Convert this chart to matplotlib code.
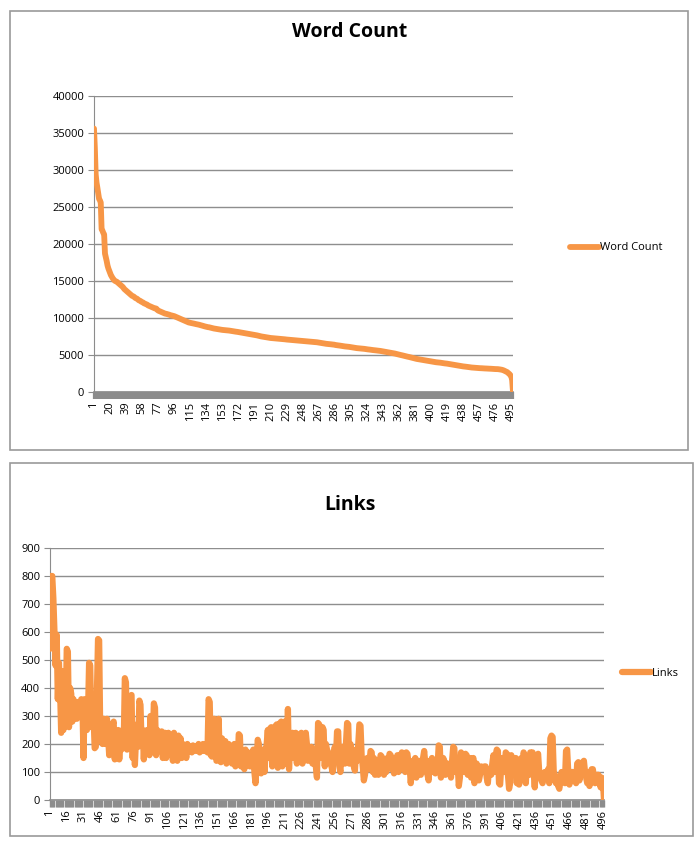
import numpy as np
import matplotlib
matplotlib.use("Agg")
import matplotlib.pyplot as plt
from matplotlib.patches import Rectangle

# word count per article, sorted descending (rows of 19)
word_count = [
  35600, 33000, 29400, 28300, 27600, 26800, 26100, 25900, 25600, 22000, 21800, 21500, 21300, 18700, 18200, 17700, 17100, 16700, 16400,
  16100, 15800, 15600, 15400, 15250, 15100, 15000, 14950, 14900, 14800, 14700, 14600, 14500, 14400, 14300, 14200, 14050, 13900, 13800,
  13700, 13600, 13500, 13400, 13300, 13200, 13100, 13000, 12950, 12900, 12800, 12700, 12650, 12600, 12500, 12400, 12350, 12300, 12200,
  12150, 12100, 12000, 11950, 11900, 11850, 11800, 11700, 11650, 11600, 11550, 11500, 11450, 11400, 11350, 11300, 11300, 11250, 11100,
  11000, 10950, 10900, 10850, 10800, 10750, 10700, 10650, 10600, 10580, 10550, 10520, 10480, 10450, 10400, 10370, 10330, 10300, 10270,
  10250, 10200, 10150, 10100, 10050, 10000, 9950, 9900, 9850, 9800, 9750, 9700, 9650, 9600, 9550, 9500, 9450, 9400, 9370,
  9350, 9320, 9300, 9280, 9250, 9220, 9200, 9170, 9150, 9120, 9100, 9070, 9040, 9000, 8970, 8940, 8900, 8870, 8840,
  8810, 8780, 8760, 8750, 8720, 8690, 8660, 8630, 8600, 8580, 8560, 8530, 8510, 8490, 8470, 8450, 8430, 8410, 8400,
  8390, 8380, 8370, 8350, 8340, 8330, 8320, 8310, 8300, 8280, 8260, 8240, 8220, 8200, 8180, 8160, 8150, 8140, 8120,
  8100, 8080, 8060, 8040, 8020, 8000, 7980, 7960, 7940, 7920, 7900, 7880, 7860, 7850, 7830, 7800, 7780, 7760, 7740,
  7720, 7700, 7680, 7650, 7620, 7590, 7550, 7530, 7510, 7490, 7470, 7450, 7430, 7410, 7390, 7370, 7350, 7330, 7310,
  7300, 7290, 7280, 7270, 7260, 7250, 7240, 7230, 7220, 7210, 7200, 7190, 7180, 7170, 7160, 7150, 7140, 7120, 7100,
  7090, 7080, 7070, 7060, 7050, 7040, 7030, 7020, 7010, 7000, 6990, 6980, 6970, 6960, 6950, 6940, 6930, 6920, 6900,
  6890, 6880, 6870, 6860, 6850, 6840, 6830, 6820, 6810, 6800, 6790, 6780, 6770, 6760, 6750, 6740, 6730, 6720, 6700,
  6690, 6670, 6650, 6630, 6610, 6590, 6570, 6550, 6530, 6510, 6500, 6490, 6480, 6470, 6460, 6440, 6420, 6410, 6400,
  6370, 6350, 6330, 6320, 6300, 6290, 6270, 6250, 6230, 6210, 6200, 6180, 6160, 6150, 6130, 6120, 6110, 6100, 6080,
  6060, 6040, 6020, 6000, 5990, 5970, 5950, 5930, 5920, 5910, 5900, 5890, 5870, 5860, 5850, 5840, 5830, 5810, 5800,
  5780, 5760, 5750, 5740, 5720, 5700, 5690, 5670, 5660, 5650, 5640, 5620, 5600, 5590, 5580, 5560, 5550, 5530, 5520,
  5500, 5480, 5460, 5440, 5420, 5400, 5380, 5360, 5340, 5320, 5300, 5280, 5250, 5220, 5200, 5170, 5140, 5100, 5070,
  5050, 5030, 5000, 4980, 4950, 4920, 4900, 4870, 4840, 4810, 4780, 4760, 4730, 4700, 4670, 4640, 4610, 4580, 4550,
  4520, 4500, 4470, 4450, 4430, 4410, 4390, 4370, 4350, 4330, 4310, 4290, 4270, 4250, 4230, 4210, 4190, 4160, 4140,
  4120, 4100, 4090, 4080, 4060, 4040, 4020, 4010, 4000, 3990, 3980, 3960, 3940, 3920, 3900, 3890, 3870, 3860, 3850,
  3830, 3810, 3800, 3780, 3760, 3740, 3720, 3700, 3680, 3660, 3640, 3620, 3600, 3580, 3560, 3540, 3520, 3500, 3480,
  3460, 3450, 3440, 3420, 3400, 3390, 3380, 3360, 3340, 3320, 3310, 3300, 3290, 3280, 3270, 3260, 3250, 3250, 3240,
  3230, 3220, 3220, 3210, 3200, 3200, 3190, 3180, 3180, 3170, 3160, 3160, 3150, 3150, 3140, 3130, 3120, 3120, 3110,
  3100, 3100, 3090, 3090, 3080, 3060, 3040, 3020, 3000, 2960, 2920, 2860, 2800, 2750, 2700, 2600, 2500, 2400, 2250,
  2100, 1600, 0,
]

# number of links per article, same order (rows of 15)
links = [
  540, 800, 800, 720, 600, 480, 590, 360, 490, 400, 240, 460, 250, 380, 300,
  540, 530, 260, 400, 380, 280, 360, 300, 340, 290, 350, 320, 300, 360, 350,
  150, 360, 290, 250, 300, 490, 480, 260, 350, 300, 185, 190, 380, 575, 570,
  230, 280, 200, 290, 270, 200, 290, 230, 160, 250, 200, 270, 280, 145, 240,
  170, 250, 145, 220, 180, 250, 200, 435, 420, 180, 260, 200, 370, 375, 150,
  260, 125, 220, 270, 190, 355, 340, 200, 250, 145, 240, 180, 250, 230, 160,
  300, 170, 200, 345, 330, 160, 250, 200, 230, 180, 245, 150, 190, 240, 150,
  200, 240, 200, 170, 230, 140, 240, 150, 220, 140, 230, 160, 220, 150, 200,
  170, 180, 150, 200, 175, 190, 180, 170, 195, 180, 190, 175, 180, 200, 170,
  190, 180, 200, 175, 185, 190, 170, 360, 350, 160, 155, 230, 290, 285, 140,
  150, 290, 140, 135, 220, 200, 150, 210, 130, 190, 200, 150, 170, 130, 180,
  200, 120, 180, 130, 235, 230, 120, 170, 150, 110, 180, 160, 170, 150, 120,
  170, 150, 180, 100, 60, 130, 215, 200, 120, 95, 150, 180, 100, 170, 200,
  250, 150, 255, 260, 120, 250, 160, 265, 270, 115, 200, 275, 280, 120, 270,
  280, 150, 130, 325, 110, 200, 160, 240, 150, 235, 240, 130, 180, 150, 140,
  240, 130, 235, 150, 240, 200, 140, 170, 150, 190, 130, 160, 150, 120, 80,
  275, 270, 150, 200, 260, 250, 120, 200, 180, 170, 150, 130, 120, 100, 170,
  190, 150, 245, 245, 120, 100, 180, 190, 150, 130, 200, 275, 270, 130, 200,
  160, 150, 120, 105, 180, 140, 200, 270, 265, 160, 120, 70, 90, 140, 150,
  110, 130, 175, 170, 100, 150, 90, 120, 140, 90, 130, 160, 155, 100, 90,
  130, 100, 150, 140, 165, 160, 110, 130, 95, 150, 120, 160, 100, 140, 110,
  170, 120, 165, 100, 170, 165, 130, 120, 60, 110, 140, 100, 150, 80, 130,
  140, 110, 90, 130, 150, 175, 130, 100, 90, 70, 140, 120, 150, 100, 130,
  95, 140, 120, 195, 190, 80, 120, 150, 140, 90, 110, 130, 100, 120, 80,
  140, 190, 185, 100, 120, 130, 50, 80, 170, 160, 120, 100, 165, 160, 90,
  140, 150, 80, 130, 150, 60, 100, 130, 110, 70, 90, 120, 115, 100, 120,
  120, 80, 60, 110, 100, 90, 130, 160, 100, 160, 180, 175, 60, 55, 120,
  150, 140, 100, 170, 165, 90, 40, 60, 160, 140, 150, 100, 150, 60, 140,
  55, 100, 150, 120, 170, 160, 60, 140, 150, 90, 170, 165, 170, 100, 45,
  120, 150, 165, 100, 90, 70, 60, 80, 100, 90, 100, 110, 60, 220, 230,
  225, 100, 90, 60, 80, 50, 40, 70, 100, 90, 80, 60, 175, 180, 100,
  55, 90, 100, 100, 80, 70, 60, 130, 135, 70, 100, 130, 135, 140, 100,
  80, 60, 100, 50, 70, 110, 110, 80, 60, 70, 90, 90, 60, 45, 80,
  70, 0,
]

orange = '#F79646'
gray = '#8C8C8C'
W, H = 700, 841


def px_rect(x0, y0, x1, y1):
  # pixel box (top-left origin) -> figure fraction [l, b, w, h]
  return [x0 / W, 1 - y1 / H, (x1 - x0) / W, (y1 - y0) / H]


def draw_chart(fig, box, axrect, values, title, ystep, ymax, lstep, title_y,
               leg_xy, lw, tick_w):
  l, b, w, h = px_rect(*box)
  fig.patches.append(Rectangle((l, b), w, h, transform=fig.transFigure,
                               fill=False, edgecolor='#9A9A9A', lw=1.2))
  ax = fig.add_axes(px_rect(*axrect))
  n = len(values)
  x = np.arange(1, n + 1)
  line, = ax.plot(x, values, color=orange, lw=lw, solid_joinstyle='round',
                  solid_capstyle='round', label=title, zorder=3)
  ax.set_xlim(1, n)
  ax.set_ylim(0, ymax)
  ax.set_yticks(np.arange(0, ymax + 1, ystep))
  ax.yaxis.grid(True, color='#8E8E8E', lw=1)
  ax.set_axisbelow(True)
  for s in ['top', 'right']:
    ax.spines[s].set_visible(False)
  ax.spines['left'].set_color(gray)
  ax.spines['bottom'].set_color(gray)
  ax.spines['bottom'].set_linewidth(1.2)
  ax.set_xticks(np.arange(1, n + 1, lstep))
  ax.set_xticklabels([str(v) for v in np.arange(1, n + 1, lstep)], rotation=90,
                     fontsize=8)
  ax.set_xticks(x, minor=True)
  ax.tick_params(axis='x', which='both', length=5, color=gray, width=tick_w,
                 direction='out', pad=2)
  ax.tick_params(axis='y', length=4, color=gray, labelsize=8, pad=3)
  fig.text(0.5, 1 - title_y / H, title, ha='center', va='center',
           fontsize=14, fontweight='bold', family='Open Sans')
  fig.legend(handles=[line], loc='center left',
             bbox_to_anchor=(leg_xy[0] / W, 1 - leg_xy[1] / H),
             frameon=False, fontsize=8, handlelength=2.6, handletextpad=0.1,
             borderaxespad=0, borderpad=0)
  return ax


def main():
  plt.rcParams['font.family'] = ['Open Sans', 'DejaVu Sans']
  fig = plt.figure(figsize=(7, 8.41), dpi=100)

  draw_chart(fig, (10, 11, 688, 450), (94, 96, 513, 392), word_count,
             'Word Count', 5000, 40000, 19, 32, (570, 248), 4.2, 1.6)
  draw_chart(fig, (10, 463, 693, 836), (50, 548, 604, 800), links,
             'Links', 100, 900, 15, 505, (622, 673), 4.5, 1.0)

  fig.savefig('out.png', dpi=100, facecolor='white')


if __name__ == '__main__':
  main()
